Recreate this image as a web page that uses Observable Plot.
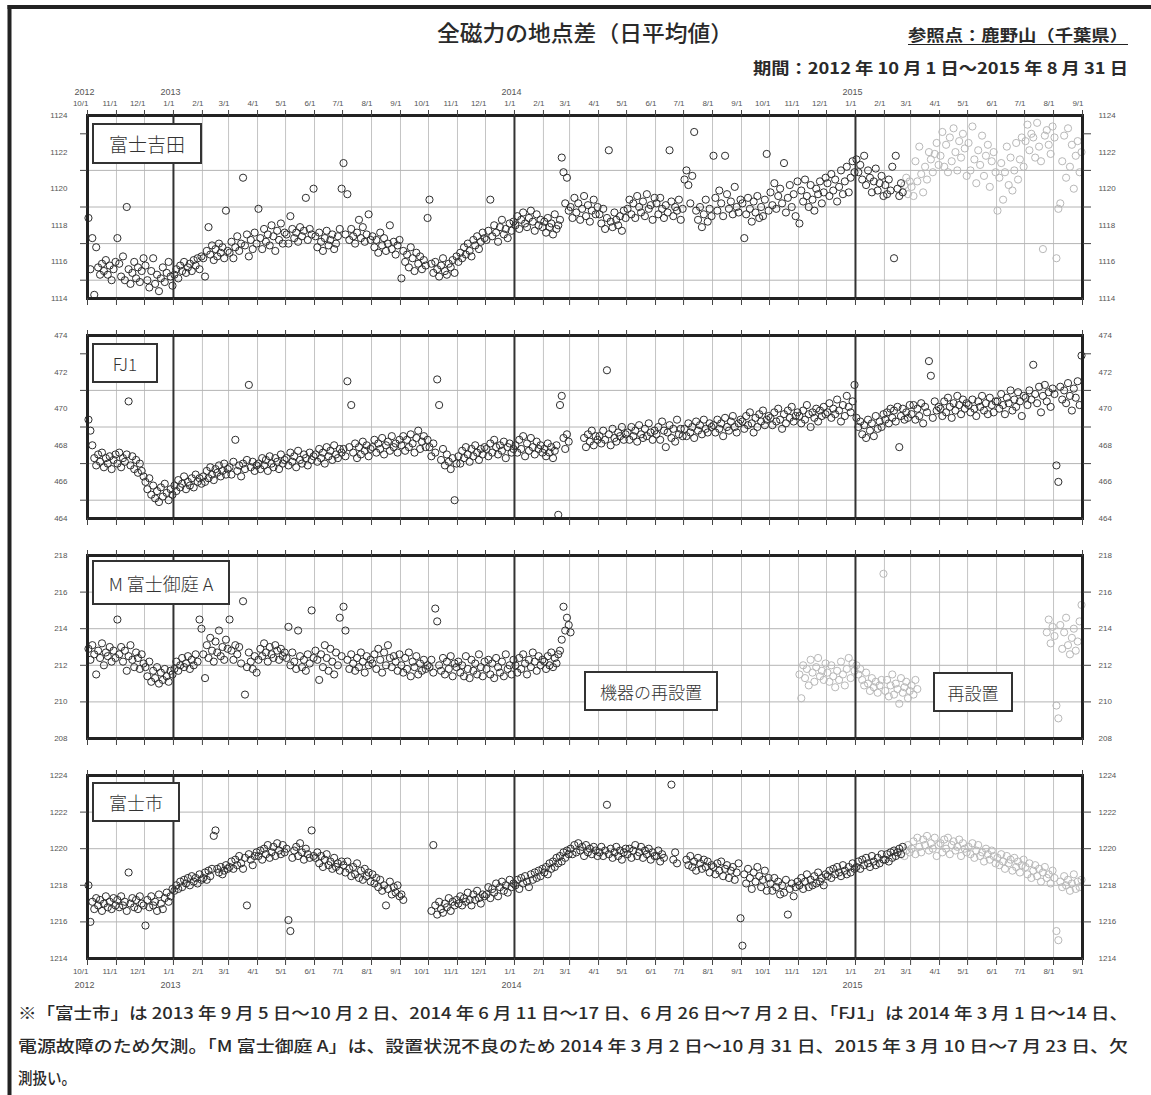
<!DOCTYPE html>
<html><head><meta charset="utf-8">
<script src="https://cdn.jsdelivr.net/npm/d3@7"></script>
<script src="https://cdn.jsdelivr.net/npm/@observablehq/plot@0.6"></script>
<style>
body{margin:0;background:#fff;}
#page{position:relative;width:1151px;height:1095px;overflow:hidden;background:#fff;}
.panel{position:absolute;left:0;}
.lab{position:absolute;border:2px solid #333;background:#fff;display:flex;align-items:center;justify-content:center;font-family:"Noto Sans CJK JP",sans-serif;font-weight:300;color:#333;box-sizing:border-box;white-space:nowrap;}
#over{position:absolute;left:0;top:0;}
</style></head><body><div id="page"></div>
<script>
// ---- data: one row per month (Oct 2012 .. Aug 2015), values spread evenly over the month ----
const firstYear = 2012, firstMonth = 9; // October 2012
const monthTickLabels = ["1/1","2/1","3/1","4/1","5/1","6/1","7/1","8/1","9/1","10/1","11/1","12/1"];
const yearLabels = ["2012","2013","2014","2015"];

const fujiyoshida = [
[1118.4,1115.6,1117.3,1114.2,1116.8,1115.7,1115.3,1115.9,1115.5,1116.1,1115.3,1115.8,1115.0,1115.6,1116.0],
[1117.3,1115.9,1115.2,1116.3,1115.0,1119.0,1115.6,1114.8,1115.4,1116.0,1115.1,1115.7,1114.9,1115.5,1116.2],
[1115.8,1115.0,1114.6,1115.5,1116.2,1114.8,1115.3,1114.4,1115.1,1115.7,1114.9,1115.4,1116.0,1115.2,1114.7],
[1115.3,1115.6,1115.1,1115.8,1115.5,1116.0,1115.4,1115.7,1115.9,1115.5,1116.1,1115.8,1116.2,1115.6,1116.3],
[1116.2,1115.2,1116.6,1117.9,1116.4,1116.9,1116.1,1116.7,1116.3,1117.0,1116.5,1116.8,1116.2,1118.8,1116.6],
[1116.5,1117.1,1116.2,1116.8,1117.4,1116.6,1117.0,1120.6,1116.9,1117.5,1116.3,1117.2,1116.7,1117.6,1117.0],
[1118.9,1117.3,1116.7,1117.8,1117.1,1117.5,1116.9,1118.0,1117.4,1116.6,1117.7,1117.2,1118.1,1117.0,1117.6],
[1117.5,1117.0,1118.5,1117.8,1117.3,1117.6,1117.1,1117.9,1117.4,1117.7,1119.5,1117.2,1117.8,1117.5,1120.0],
[1117.4,1116.8,1117.6,1117.1,1116.6,1117.3,1117.7,1116.9,1117.2,1117.5,1116.7,1117.0,1117.4,1117.8,1120.0],
[1121.4,1117.5,1119.7,1117.2,1117.8,1117.4,1117.0,1117.6,1118.3,1117.3,1117.9,1117.1,1117.5,1118.6,1117.2],
[1117.4,1116.8,1117.2,1116.5,1117.6,1116.9,1117.3,1116.6,1117.0,1118.0,1116.7,1117.1,1116.4,1116.9,1117.2],
[1115.1,1116.6,1116.0,1116.4,1115.7,1116.8,1116.2,1115.5,1116.5,1115.9,1116.3,1115.6,1116.1,1115.8,1118.4],
[1119.4,1115.9,1115.4,1116.0,1115.6,1115.2,1115.8,1116.2,1115.5,1115.3,1115.9,1115.7,1116.1,1115.4,1116.3],
[1116.0,1116.5,1116.2,1116.8,1116.4,1117.0,1116.6,1116.3,1117.2,1116.9,1117.4,1116.7,1117.1,1117.6,1117.3],
[1117.2,1117.7,1119.4,1117.4,1118.0,1117.6,1117.1,1117.9,1118.3,1117.5,1117.8,1117.3,1118.1,1117.7,1118.2],
[1118.0,1118.5,1117.8,1118.3,1118.7,1118.1,1117.9,1118.4,1118.8,1118.2,1117.7,1118.6,1118.0,1118.3,1117.9],
[1118.2,1117.6,1118.4,1117.9,1118.1,1117.5,1118.6,1117.8,1118.0,1118.3,1121.7,1120.9,1119.2,1120.6,1118.8],
[1119.0,1118.4,1119.5,1118.7,1119.2,1118.3,1118.9,1119.6,1118.5,1119.1,1118.2,1118.8,1119.4,1118.6,1119.0],
[1118.6,1118.1,1118.9,1117.8,1118.4,1122.1,1118.2,1117.9,1118.7,1118.3,1118.0,1118.5,1117.7,1118.8,1118.4],
[1118.9,1119.4,1118.6,1119.2,1118.4,1119.6,1119.0,1118.7,1119.3,1118.5,1119.7,1118.9,1119.1,1118.3,1119.5],
[1119.2,1118.6,1119.5,1118.9,1118.4,1119.1,1118.7,1122.1,1119.3,1118.5,1119.0,1118.8,1119.4,1118.3,1118.9],
[1120.5,1121.0,1120.2,1119.2,1120.7,1123.1,1118.8,1118.3,1119.0,1117.9,1118.6,1119.4,1118.2,1118.9,1118.5],
[1121.8,1119.5,1118.8,1119.9,1119.2,1118.5,1121.8,1119.7,1118.9,1119.3,1118.6,1120.1,1119.0,1118.7,1119.4],
[1119.2,1117.3,1118.6,1119.5,1118.9,1118.2,1119.3,1118.7,1119.6,1118.4,1119.0,1118.5,1119.4,1121.9,1118.8],
[1119.8,1119.1,1120.3,1118.9,1119.6,1120.0,1119.2,1121.4,1118.7,1119.5,1120.2,1119.0,1119.7,1118.5,1120.4],
[1118.1,1119.9,1119.3,1120.5,1119.6,1119.0,1120.2,1119.4,1118.8,1120.0,1119.7,1120.4,1119.2,1119.8,1120.6],
[1120.3,1119.6,1120.8,1119.9,1120.5,1119.3,1120.1,1121.0,1119.7,1120.4,1121.2,1119.8,1120.6,1121.5,1120.9],
[1121.6,1120.9,1121.3,1120.5,1121.8,1120.2,1121.0,1120.6,1119.8,1120.4,1121.1,1119.9,1120.3,1120.7,1119.6],
[1120.2,1119.7,1120.5,1119.9,1121.2,1116.2,1121.8,1120.0,1119.6,1120.3,1119.8,1120.2,1120.6,1119.7,1120.4],
[1120.1,1119.6,1121.5,1120.4,1122.3,1120.8,1119.8,1121.2,1120.5,1122.0,1121.6,1120.9,1121.9,1122.5,1121.3],
[1121.8,1123.1,1121.2,1122.4,1120.9,1122.8,1121.5,1123.3,1122.0,1121.0,1122.6,1121.7,1123.0,1122.2,1120.7],
[1122.5,1121.0,1123.4,1121.6,1120.3,1122.1,1121.3,1122.9,1120.7,1121.8,1122.4,1120.1,1121.5,1122.0,1120.9],
[1118.8,1120.6,1121.4,1119.4,1120.9,1122.3,1120.2,1121.7,1119.9,1121.0,1122.5,1120.5,1121.6,1122.8,1121.2],
[1122.6,1123.5,1122.1,1123.0,1122.8,1121.7,1123.6,1122.3,1121.5,1116.7,1122.9,1123.2,1122.4,1121.9,1123.4],
[1122.8,1116.2,1118.9,1119.2,1121.5,1122.9,1120.6,1123.3,1121.2,1122.4,1120.0,1121.8,1122.6,1120.9,1122.0]
];

const fj1 = [
[469.4,468.8,468.0,467.3,466.9,467.5,467.1,467.6,466.8,467.3,467.0,467.4,466.7,467.2,467.5],
[467.0,467.6,466.8,467.3,467.1,467.5,470.4,466.9,467.4,466.7,467.2,466.5,467.0,466.6,466.3],
[466.0,465.6,466.2,465.3,465.8,465.1,465.5,464.9,465.7,465.2,465.9,465.4,465.0,465.6,465.3],
[465.8,465.5,466.1,465.7,465.9,466.3,465.6,466.0,465.8,466.2,465.7,466.4,466.0,466.2,465.9],
[466.3,466.0,466.6,466.2,466.8,466.4,466.1,466.7,466.5,466.9,466.3,466.6,467.0,466.4,466.7],
[466.8,466.4,467.1,468.3,466.6,466.9,466.3,467.0,466.7,467.2,471.3,466.8,467.1,466.6,466.9],
[467.0,466.7,467.3,466.9,467.2,466.6,467.4,467.0,466.8,467.3,467.1,466.7,467.5,467.0,467.2],
[467.3,466.9,467.6,467.1,467.4,466.8,467.7,467.2,467.0,467.5,467.3,466.9,467.6,467.2,467.4],
[467.5,467.1,467.8,467.3,467.6,467.0,467.9,467.4,467.7,467.2,468.0,467.5,467.3,467.8,467.6],
[467.8,467.4,471.5,467.9,470.2,467.6,468.1,467.3,467.9,467.5,468.2,467.7,468.0,467.4,467.8],
[467.9,468.3,467.6,468.1,467.8,468.4,467.5,468.0,468.2,467.7,468.5,467.9,468.1,467.6,468.3],
[468.0,468.5,467.7,468.3,467.9,468.6,468.1,467.6,468.4,468.8,467.8,468.2,468.5,467.9,468.3],
[467.9,467.4,468.1,467.6,471.6,470.2,467.2,467.8,466.9,467.5,467.1,466.7,467.3,465.0,467.0],
[467.4,467.0,467.7,467.3,467.9,467.5,467.1,467.8,467.4,468.0,467.6,467.2,467.8,467.5,467.9],
[467.8,467.4,468.1,467.6,468.3,467.9,467.5,468.0,467.7,468.2,467.3,467.9,468.1,467.6,467.8],
[468.0,467.6,468.3,467.8,468.5,467.4,468.1,467.7,468.4,467.9,467.5,468.2,467.8,468.0,467.6],
[467.8,467.4,468.1,467.6,467.9,467.3,467.7,468.0,464.2,470.2,470.7,468.4,467.8,468.6,468.2],
[null,null,null,null,null,null,null,468.4,467.9,468.6,468.2,468.8,468.0,468.5,468.3],
[468.5,468.1,468.8,468.3,472.1,468.6,468.0,468.9,468.4,468.2,468.7,468.5,469.0,468.3,468.6],
[468.7,468.3,469.0,468.5,468.8,468.2,469.1,468.6,468.4,468.9,468.5,469.2,468.7,468.3,468.8],
[468.6,469.0,468.3,469.3,468.8,467.9,468.7,469.1,468.4,468.9,468.2,469.4,468.6,468.9,468.5],
[468.9,468.5,469.2,468.7,469.0,468.4,469.3,468.8,469.1,468.6,469.4,468.9,468.7,469.2,469.0],
[469.1,468.7,469.4,468.9,469.2,468.5,469.5,469.0,468.8,469.3,469.6,469.0,468.7,469.2,469.4],
[469.3,468.9,469.6,469.1,469.8,469.2,468.7,469.5,469.0,469.7,469.3,469.9,469.1,469.4,469.6],
[469.5,469.1,469.8,469.3,470.0,469.4,468.9,469.7,469.2,469.9,469.5,470.1,469.3,469.6,469.8],
[469.6,469.2,469.9,469.4,470.2,469.7,469.0,469.8,469.5,470.0,469.3,469.9,469.6,470.1,469.7],
[469.8,470.3,469.5,470.0,469.7,470.5,469.9,469.3,470.2,469.6,470.7,470.1,469.8,470.4,471.3],
[469.5,469.0,469.3,468.6,469.1,468.4,469.4,468.8,469.2,468.5,469.6,468.9,469.3,469.0,469.7],
[469.4,469.8,469.2,470.0,469.5,469.9,469.3,470.1,467.9,469.6,470.0,469.4,469.8,469.5,470.2],
[469.7,470.2,469.4,470.0,469.6,470.3,469.2,470.1,469.8,472.6,471.8,469.5,470.4,469.9,470.1],
[470.0,469.6,470.4,469.8,470.6,470.1,469.5,470.3,469.9,470.7,470.2,469.7,470.5,470.0,470.3],
[470.2,469.8,470.5,470.0,469.6,470.4,470.1,470.7,469.9,470.3,469.7,470.6,470.2,469.8,470.4],
[470.4,470.0,470.8,470.2,469.7,470.6,470.3,471.0,469.9,470.5,470.1,470.9,470.4,469.6,470.7],
[470.6,470.2,471.0,470.5,472.4,470.8,470.3,471.2,469.8,470.7,471.3,470.4,470.9,470.1,471.1],
[470.8,466.9,466.0,471.2,470.5,471.0,470.3,471.4,470.7,469.9,471.1,470.6,471.5,470.2,472.9]
];

const mFujiOniwaA = [
[212.9,212.3,213.1,212.6,211.5,212.8,212.4,213.2,212.0,212.7,212.5,213.0,212.2,212.8,212.4],
[214.5,212.6,213.0,212.2,212.8,211.7,212.5,213.1,212.3,211.9,212.7,212.4,211.8,212.6,212.1],
[211.9,211.4,212.2,211.1,211.7,211.3,211.9,211.0,211.6,211.2,211.8,211.4,211.1,211.7,211.5],
[211.8,212.2,211.7,212.0,212.4,211.9,212.1,212.5,211.8,212.3,212.0,212.6,212.2,214.5,214.0],
[212.6,211.3,213.1,212.4,213.5,212.8,212.2,213.3,212.7,213.9,212.5,213.0,212.3,213.4,212.9],
[214.5,212.8,212.3,213.1,212.6,213.0,212.1,215.5,210.4,211.9,212.7,212.2,211.8,212.5,211.6],
[212.3,212.9,212.5,213.2,212.7,212.2,213.0,212.6,212.4,213.1,212.8,212.3,212.9,212.5,212.7],
[212.4,214.1,212.0,212.7,212.2,211.8,213.9,212.5,211.9,212.3,211.7,212.6,212.1,215.0,212.4],
[212.8,212.3,211.2,212.6,211.9,213.1,212.4,211.7,212.9,212.2,211.5,212.7,212.0,214.6,212.5],
[215.2,213.9,212.3,211.8,212.6,212.1,211.7,212.4,211.9,212.7,212.2,211.6,212.5,212.0,212.3],
[212.1,212.6,211.8,212.9,212.3,211.6,212.7,212.0,213.1,212.4,211.9,212.5,212.2,211.7,212.6],
[212.0,211.6,212.4,211.8,212.7,211.4,212.2,211.9,212.5,211.5,212.1,211.7,212.3,211.8,212.0],
[211.9,212.3,211.6,215.1,214.4,212.0,211.7,212.4,211.5,212.2,211.8,212.5,211.4,212.1,211.9],
[212.2,211.6,212.0,211.4,212.5,211.8,211.3,212.3,211.7,212.1,211.5,212.6,211.9,211.4,212.2],
[211.8,212.3,211.5,212.1,211.3,212.4,211.9,211.6,212.2,211.4,212.6,211.8,212.0,211.5,212.3],
[212.0,211.6,212.4,211.8,212.6,212.1,211.5,212.3,211.9,212.7,212.2,211.7,212.5,212.0,212.3],
[212.2,211.8,212.5,212.0,212.7,211.9,212.4,212.1,212.6,212.8,213.4,215.2,213.9,214.6,214.2],
[213.8,null,null,null,null,null,null,null,null,null,null,null,null,null,null],
[],[],[],[],[],[],[],
[211.5,210.2,212.0,211.3,211.8,210.9,212.3,211.6,211.1,211.9,212.4,211.4,211.7,211.2,212.1],
[211.6,211.1,212.0,211.4,210.8,211.7,211.2,212.2,211.5,210.9,211.8,212.4,211.3,212.1,211.7],
[212.0,211.5,211.8,211.2,210.9,211.6,211.0,210.6,211.3,210.8,211.1,210.5,210.9,211.2,217.0],
[210.6,211.2,210.3,210.9,211.5,210.4,211.0,210.7,209.9,211.3,210.5,210.8,211.1,210.2,210.6],
[210.9,210.4,211.2,210.7,null,null,null,null,null,null,null,null,null,null,null],
[],[],[],
[null,null,null,null,null,null,null,null,null,null,null,213.8,214.5,213.2,214.1],
[213.6,209.8,209.1,214.2,212.9,213.8,214.6,213.1,212.6,213.5,214.0,212.8,213.3,214.4,215.3]
];

const fujiCity = [
[1218.0,1216.0,1217.1,1216.7,1217.3,1216.9,1217.2,1216.6,1217.0,1217.4,1216.8,1217.1,1216.7,1217.3,1216.9],
[1217.2,1216.8,1217.4,1216.9,1217.1,1216.6,1218.7,1217.0,1217.3,1216.8,1217.2,1216.7,1217.4,1217.0,1216.9],
[1215.8,1217.2,1216.8,1217.4,1216.9,1217.1,1216.6,1217.5,1217.0,1216.7,1217.3,1217.6,1217.1,1217.4,1217.8],
[1217.7,1218.0,1217.8,1218.2,1217.9,1218.3,1218.1,1218.4,1218.0,1218.5,1218.2,1218.4,1218.1,1218.6,1218.3],
[1218.4,1218.7,1218.3,1218.8,1218.5,1218.9,1220.7,1221.0,1218.9,1218.7,1219.0,1218.6,1218.8,1219.1,1218.9],
[1219.0,1219.3,1218.9,1219.4,1219.1,1219.6,1219.2,1218.9,1219.5,1216.9,1219.7,1219.4,1219.1,1219.6,1219.8],
[1219.6,1219.9,1219.4,1220.0,1219.7,1220.2,1219.5,1219.8,1220.1,1219.6,1220.3,1219.9,1219.7,1220.2,1219.8],
[1220.0,1216.1,1215.5,1219.5,1219.9,1220.1,1219.6,1220.3,1219.8,1219.4,1220.0,1219.7,1219.5,1221.0,1219.6],
[1219.5,1219.8,1219.2,1219.6,1219.0,1219.4,1219.7,1219.1,1219.3,1218.9,1219.5,1219.0,1219.2,1218.8,1219.3],
[1219.1,1218.7,1219.3,1218.9,1218.5,1219.0,1218.6,1219.2,1218.4,1218.8,1218.3,1218.9,1218.5,1218.7,1218.2],
[1218.6,1218.1,1218.4,1217.9,1218.3,1217.7,1218.0,1216.9,1217.8,1218.2,1217.5,1217.9,1217.6,1218.0,1217.4],
[1217.5,1217.2,null,null,null,null,null,null,null,null,null,null,null,null,null],
[null,1216.6,1220.2,1216.9,1216.4,1217.1,1216.7,1216.5,1217.0,1216.8,1217.3,1216.6,1217.1,1216.9,1217.2],
[1217.0,1217.4,1216.9,1217.3,1217.1,1217.6,1217.2,1216.9,1217.5,1217.2,1217.7,1217.3,1217.0,1217.5,1217.4],
[1217.5,1217.9,1217.3,1217.8,1217.6,1218.1,1217.4,1217.9,1218.2,1217.7,1218.0,1217.6,1218.3,1217.9,1218.1],
[1218.0,1218.3,1217.8,1218.4,1218.1,1218.5,1218.2,1217.9,1218.6,1218.3,1218.7,1218.4,1218.8,1218.5,1218.9],
[1218.7,1219.0,1218.6,1219.2,1218.9,1219.3,1219.0,1219.5,1219.2,1219.6,1219.3,1219.8,1219.5,1219.9,1219.7],
[1220.0,1219.7,1220.2,1219.8,1220.3,1219.9,1220.1,1219.6,1220.2,1219.8,1220.0,1219.7,1220.1,1219.9,1219.6],
[1219.8,1220.1,1219.6,1219.9,1222.4,1219.7,1220.0,1219.5,1219.8,1220.1,1219.6,1219.9,1219.4,1219.8,1220.0],
[1219.7,1220.0,1219.5,1219.9,1220.2,1219.6,1219.8,1220.1,1219.5,1219.9,1219.7,1220.0,1219.4,1219.8,1219.6],
[1219.6,1219.9,1219.3,1219.7,1219.5,null,null,null,1223.5,1219.4,1219.8,1219.2,null,null,null],
[null,1219.4,1219.1,1219.6,1219.0,1219.3,1218.8,1219.5,1219.2,1218.9,1219.4,1219.0,1219.3,1218.7,1219.1],
[1219.0,1218.6,1219.2,1218.8,1219.3,1218.5,1218.9,1219.1,1218.4,1218.8,1219.0,1218.3,1218.7,1219.2,1216.2],
[1214.7,1218.6,1218.1,1218.9,1218.4,1217.8,1218.7,1218.2,1219.0,1218.5,1217.9,1218.3,1218.8,1217.7,1218.4],
[1218.1,1217.7,1218.4,1217.9,1218.2,1217.5,1218.0,1217.6,1218.3,1216.4,1217.8,1218.1,1217.4,1217.9,1218.2],
[1218.0,1218.4,1217.8,1218.2,1218.6,1217.9,1218.3,1218.0,1218.5,1218.1,1218.7,1218.2,1218.4,1218.0,1218.6],
[1218.5,1218.8,1218.4,1218.9,1218.6,1219.0,1218.7,1218.5,1219.1,1218.8,1218.6,1219.0,1218.7,1219.2,1218.9],
[1219.0,1219.3,1218.9,1219.4,1219.1,1219.5,1219.2,1219.0,1219.6,1219.3,1219.1,1219.5,1219.2,1219.7,1219.4],
[1219.4,1219.7,1219.3,1219.8,1219.5,1219.9,1219.6,1219.8,1220.0,1219.7,1220.1,1219.6,1219.9,1220.2,1219.8],
[1220.0,1220.4,1219.7,1220.6,1220.1,1219.8,1220.5,1220.2,1220.7,1219.9,1220.3,1220.0,1220.6,1219.6,1220.2],
[1220.3,1219.8,1220.5,1220.0,1220.6,1219.7,1220.2,1220.4,1219.9,1220.1,1220.5,1219.6,1220.3,1220.0,1219.8],
[1220.1,1219.7,1220.3,1219.5,1219.9,1220.2,1219.6,1219.8,1219.3,1220.0,1219.7,1219.4,1219.9,1219.6,1219.2],
[1219.5,1219.1,1219.7,1219.3,1218.9,1219.6,1219.2,1219.4,1218.8,1219.5,1219.0,1219.3,1218.7,1219.1,1219.4],
[1219.0,1218.6,1219.2,1218.4,1218.8,1219.1,1218.5,1218.9,1218.2,1218.7,1219.0,1218.4,1218.6,1218.1,1218.8],
[1218.4,1215.5,1215.0,1218.2,1217.9,1218.5,1218.0,1218.3,1217.7,1218.1,1218.6,1217.8,1218.2,1217.9,1218.3]
];

// panel settings (names, y ranges, tick values, provisional-data start)
const panelNames = ["富士吉田", "FJ1", "M 富士御庭 A", "富士市"];
const yDomains = [[1114,1124],[464,474],[208,218],[1214,1224]];
const yLabels = [[1114,1116,1118,1120,1122,1124],[464,466,468,470,472,474],[208,210,212,214,216,218],[1214,1216,1218,1220,1222,1224]];
const yTicks = [[1115,1117,1119,1121,1123],[465,467,469,471,473],[210,212,214,216],[1216,1218,1220,1222]];
const yGrid  = [[1115,1117,1119,1121],[465,467,469,471],[210,212,214,216],[1216,1218,1220,1222]];
const provisionalFrom = ["2015-02-21", null, "2014-11-01", "2015-02-21"];
const notes = ["機器の再設置", "再設置"];

// ---- build ----
const xStart = new Date(Date.UTC(2012, 9, 1)), xEnd = new Date(Date.UTC(2015, 8, 1));
const monthTicks = d3.utcMonth.range(xStart, new Date(Date.UTC(2015, 8, 2)));
const yearTicks = [new Date(Date.UTC(2013,0,1)), new Date(Date.UTC(2014,0,1)), new Date(Date.UTC(2015,0,1))];
const yearLabelTicks = [xStart, ...yearTicks];

function expand(rows, prov) {
  const p = prov ? new Date(prov + "T00:00:00Z") : null;
  const out = [];
  rows.forEach((row, m) => {
    const y = firstYear + Math.floor((firstMonth + m) / 12), mo = (firstMonth + m) % 12;
    const s = Date.UTC(y, mo, 1), e = Date.UTC(y, mo + 1, 1);
    row.forEach((v, k) => {
      if (v == null) return;
      const t = new Date(s + (k + 0.5) / row.length * (e - s));
      out.push({date: t, value: v, prov: p != null && t >= p});
    });
  });
  return out;
}

const page = document.getElementById("page");
const allRows = [fujiyoshida, fj1, mFujiOniwaA, fujiCity];
const frameTops = [115, 335, 555, 775];
const frameH = 183;

allRows.forEach((rows, i) => {
  const data = expand(rows, provisionalFrom[i]);
  const mt = i === 0 ? 40 : 12, mb = i === 3 ? 40 : 12;
  const marks = [
    Plot.ruleX(monthTicks, {x: d => d, stroke: "#c4c4c4", strokeWidth: 1}),
    Plot.ruleY(yGrid[i], {y: d => d, stroke: "#b4b4b4", strokeWidth: 1}),
    Plot.dot(data.filter(d => d.prov), {x: "date", y: "value", r: 3.6, stroke: "#b8b8b8", strokeWidth: 1, fill: "none"}),
    Plot.dot(data.filter(d => !d.prov), {x: "date", y: "value", r: 3.6, stroke: "#2e2e2e", strokeWidth: 1, fill: "none"}),
    Plot.ruleX(yearTicks, {x: d => d, stroke: "#333", strokeWidth: 2}),
    Plot.frame({stroke: "#222", strokeWidth: 3}),
    Plot.axisX(monthTicks, {anchor: "top", tickSize: 6, tickFormat: () => "", stroke: "#444", label: null}),
    Plot.axisX(monthTicks, {anchor: "bottom", tickSize: 7, tickFormat: () => "", stroke: "#444", label: null}),
    Plot.axisY(yTicks[i], {anchor: "left", tickSize: 7, tickFormat: () => "", stroke: "#444", label: null}),
    Plot.axisY(yTicks[i], {anchor: "right", tickSize: 8, tickFormat: () => "", stroke: "#444", label: null}),
    Plot.text(yLabels[i], {y: d => d, frameAnchor: "left", dx: -20, textAnchor: "end", text: d => String(d), fill: "#555"}),
    Plot.text(yLabels[i], {y: d => d, frameAnchor: "right", dx: 16, textAnchor: "start", text: d => String(d), fill: "#555"})
  ];
  if (i === 0) {
    marks.push(Plot.text(monthTicks, {x: d => d, frameAnchor: "top", dy: -15, textAnchor: "end", dx: 1, text: d => monthTickLabels[d.getUTCMonth()], fill: "#555"}));
    marks.push(Plot.text(yearLabelTicks, {x: d => d, frameAnchor: "top", dy: -27, dx: -3, text: (d, j) => yearLabels[j], fill: "#555", fontSize: 9}));
  }
  if (i === 3) {
    marks.push(Plot.text(monthTicks, {x: d => d, frameAnchor: "bottom", dy: 15, textAnchor: "end", dx: 1, text: d => monthTickLabels[d.getUTCMonth()], fill: "#555"}));
    marks.push(Plot.text(yearLabelTicks, {x: d => d, frameAnchor: "bottom", dy: 29, dx: -3, text: (d, j) => yearLabels[j], fill: "#555", fontSize: 9}));
  }
  const svg = Plot.plot({
    width: 1151, height: frameH + mt + mb,
    marginLeft: 87, marginRight: 69, marginTop: mt, marginBottom: mb,
    x: {type: "utc", domain: [xStart, xEnd], axis: null},
    y: {domain: yDomains[i], axis: null},
    style: {fontFamily: "'Liberation Sans Narrow','Liberation Sans',sans-serif", fontSize: "8px", background: "transparent", overflow: "visible"},
    marks
  });
  svg.classList.add("panel");
  svg.style.top = (frameTops[i] - mt) + "px";
  page.appendChild(svg);
});

// label boxes
function box(text, left, top, w, h, fs) {
  const d = document.createElement("div");
  d.className = "lab";
  Object.assign(d.style, {left: left + "px", top: top + "px", width: w + "px", height: h + "px", fontSize: fs + "px"});
  d.textContent = text;
  page.appendChild(d);
}
box(panelNames[0], 92, 123, 110, 41, 19);
box(panelNames[1], 92, 343, 66, 40, 17);
box(panelNames[2], 92, 560, 138, 45, 18);
box(panelNames[3], 92, 782, 88, 40, 18);
box(notes[0], 584, 671, 134, 40, 17);
box(notes[1], 933, 672, 80, 40, 17);

// titles and footnotes
const NS = "http://www.w3.org/2000/svg";
const over = document.createElementNS(NS, "svg");
over.setAttribute("id", "over");
over.setAttribute("width", 1151); over.setAttribute("height", 1095);
page.appendChild(over);
function txt(s, x, y, size, weight, len, anchor) {
  const t = document.createElementNS(NS, "text");
  t.setAttribute("x", x); t.setAttribute("y", y);
  t.setAttribute("font-size", size); t.setAttribute("font-weight", weight);
  t.setAttribute("font-family", "'Noto Sans CJK JP',sans-serif");
  t.setAttribute("fill", "#2a2a2a");
  if (anchor) t.setAttribute("text-anchor", anchor);
  if (len) { t.setAttribute("textLength", len); t.setAttribute("lengthAdjust", "spacingAndGlyphs"); }
  t.textContent = s;
  over.appendChild(t);
  return t;
}
function line(x1, y1, x2, y2, w) {
  const l = document.createElementNS(NS, "line");
  l.setAttribute("x1", x1); l.setAttribute("y1", y1); l.setAttribute("x2", x2); l.setAttribute("y2", y2);
  l.setAttribute("stroke", "#222"); l.setAttribute("stroke-width", w);
  over.appendChild(l);
}
line(9.5, 5, 9.5, 1095, 4);
line(7.5, 7, 1151, 7, 4);
txt("全磁力の地点差（日平均値）", 437, 41, 22, 500, 296);
txt("参照点：鹿野山（千葉県）", 908, 41, 16, 700, 220);
line(908, 44.5, 1128, 44.5, 1.2);
txt("期間：2012 年 10 月 1 日～2015 年 8 月 31 日", 753, 74, 16, 700, 375);
txt("※「富士市」は 2013 年 9 月 5 日～10 月 2 日、2014 年 6 月 11 日～17 日、6 月 26 日～7 月 2 日、「FJ1」は 2014 年 3 月 1 日～14 日、", 18, 1019, 16, 500, 1110);
txt("電源故障のため欠測。「M 富士御庭 A」は、設置状況不良のため 2014 年 3 月 2 日～10 月 31 日、2015 年 3 月 10 日～7 月 23 日、欠", 18, 1052, 16, 500, 1110);
txt("測扱い。", 18, 1084, 16, 500, 58);
</script></body></html>
